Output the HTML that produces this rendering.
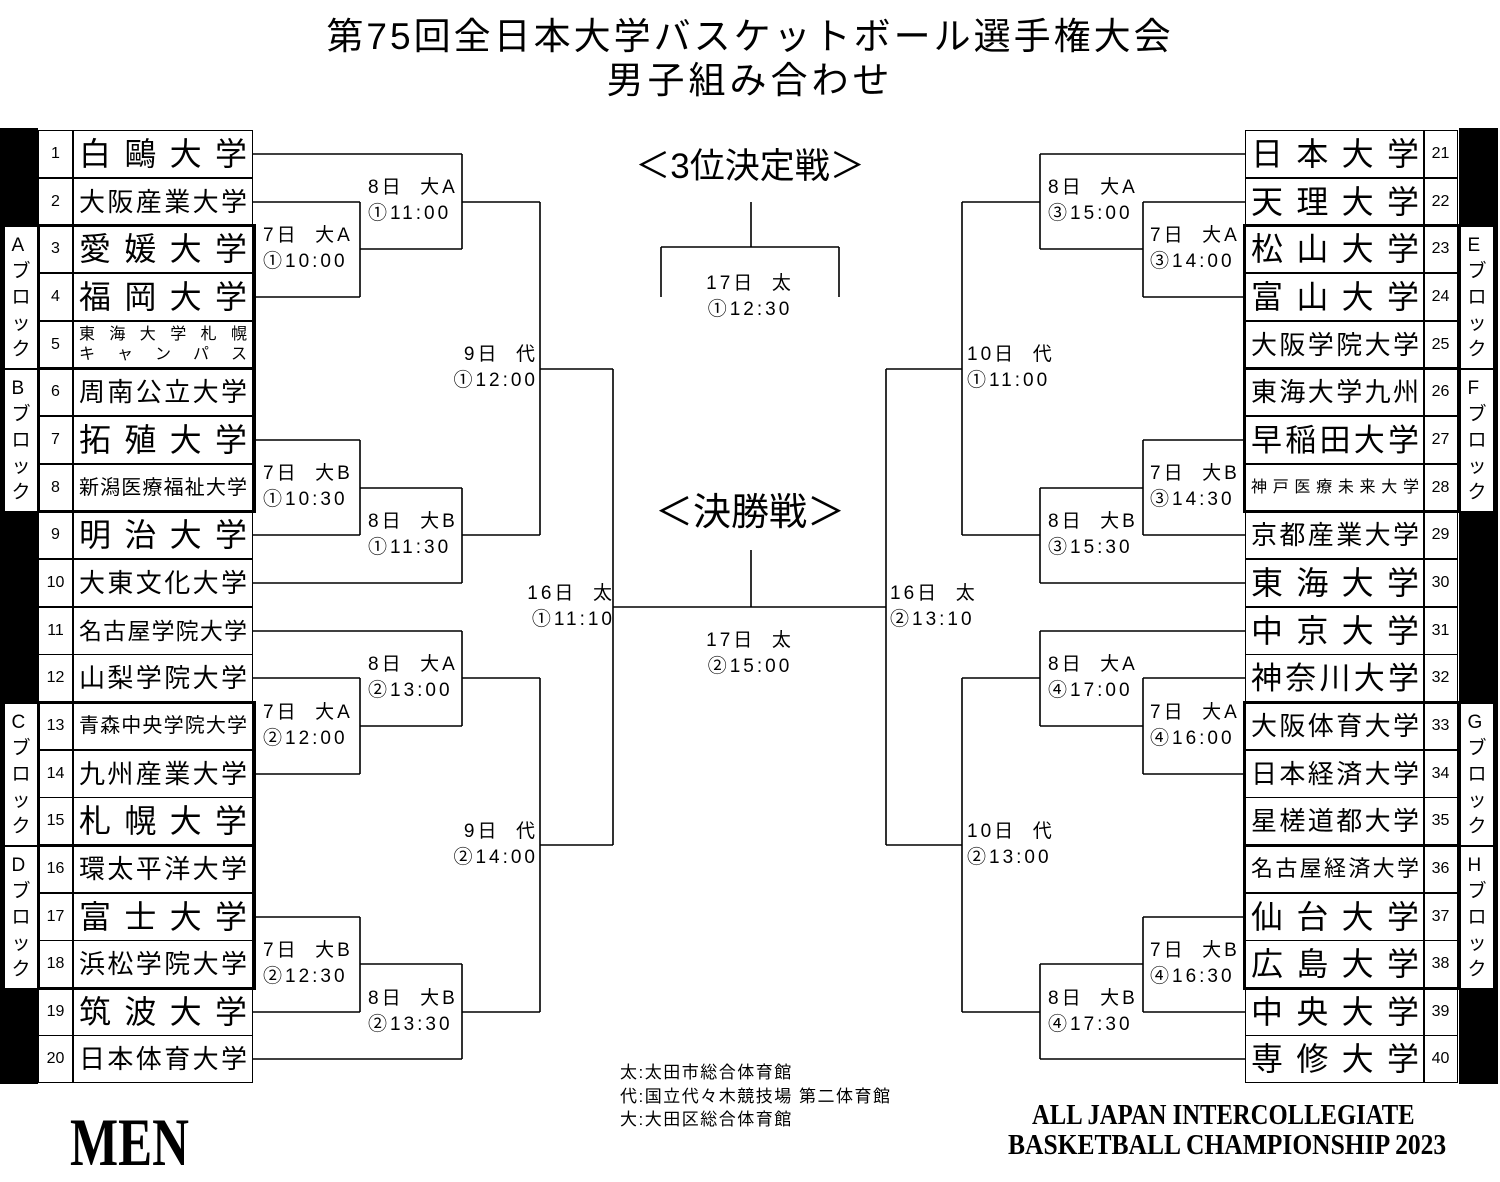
<!DOCTYPE html>
<html><head><meta charset="utf-8">
<style>
*{margin:0;padding:0;box-sizing:border-box}
body{width:1500px;height:1182px;background:#fff;position:relative;overflow:hidden;font-family:"Liberation Sans","Noto Sans CJK JP",sans-serif;color:#000}
.a{position:absolute}
.t{position:absolute;left:0;width:1500px;text-align:center;font-size:37px;white-space:nowrap}
.num{position:absolute;width:35px;height:48px;border:1.5px solid #000;font-size:16px;display:flex;align-items:center;justify-content:center}
.nm{position:absolute;width:180px;height:48px;border:1.5px solid #000;display:flex;align-items:center;padding:0 5px}
.nm span{display:block;width:100%;text-align:justify;text-align-last:justify;white-space:nowrap;line-height:1}
.blk{position:absolute;border:3px solid #000}
.bl{position:absolute;width:34px;border:1.5px solid #000;display:flex;flex-direction:column;align-items:center;justify-content:center;font-size:19px;line-height:26px;background:#fff}
.lb{position:absolute;font-size:19px;letter-spacing:3px;line-height:26px;white-space:nowrap}
.r{text-align:right}
.serif{font-family:"Liberation Serif",serif;font-weight:bold;white-space:nowrap;transform-origin:0 0}
</style></head><body>
<div class="t" style="top:6px;letter-spacing:3px">第75回全日本大学バスケットボール選手権大会</div>
<div class="t" style="top:50px;letter-spacing:4px">男子組み合わせ</div>

<div class="a" style="left:0;top:128px;width:38px;height:956px;background:#000"></div>
<div class="a" style="left:1459px;top:128px;width:39px;height:956px;background:#000"></div>

<svg class="a" style="left:0;top:0" width="1500" height="1182">
<g stroke="#000" stroke-width="1.6" fill="none">
<path d="M253 154H462M253 202H360M360 202V297M253 297H360M360 249H462M462 154V249M462 202H540"/>
<path d="M253 440H360M360 440V535M253 535H360M360 488H462M462 488V583M253 583H462M462 535H540"/>
<path d="M540 202V535M540 369H613"/>
<path d="M253 631H462M462 631V726M253 678H360M360 678V774M253 774H360M360 726H462M462 678H540"/>
<path d="M253 917H360M360 917V1012M253 1012H360M360 964H462M462 964V1059M253 1059H462M462 1012H540"/>
<path d="M540 678V1012M540 845H613M613 369V845M613 607H886"/>
<path d="M751 550V607M751 202V247M661 247H839M661 247V297M839 247V297"/>
<path d="M1245 154H1040M1245 202H1143M1143 202V297M1245 297H1143M1143 249H1040M1040 154V249M1040 202H962"/>
<path d="M1245 440H1143M1143 440V535M1245 535H1143M1143 488H1040M1040 488V583M1245 583H1040M1040 535H962"/>
<path d="M962 202V535M962 369H886"/>
<path d="M1245 631H1040M1040 631V726M1245 678H1143M1143 678V774M1245 774H1143M1143 726H1040M1040 678H962"/>
<path d="M1245 917H1143M1143 917V1012M1245 1012H1143M1143 964H1040M1040 964V1059M1245 1059H1040M1040 1012H962"/>
<path d="M962 678V1012M962 845H886M886 369V845"/>
</g></svg>

<!-- LEFT rows -->
<div class="num" style="left:38px;top:130px">1</div><div class="nm" style="left:73px;top:130px"><span style="font-size:32px">白鷗大学</span></div>
<div class="num" style="left:38px;top:178px">2</div><div class="nm" style="left:73px;top:178px"><span style="font-size:26px">大阪産業大学</span></div>
<div class="num" style="left:38px;top:225px">3</div><div class="nm" style="left:73px;top:225px"><span style="font-size:32px">愛媛大学</span></div>
<div class="num" style="left:38px;top:273px">4</div><div class="nm" style="left:73px;top:273px"><span style="font-size:32px">福岡大学</span></div>
<div class="num" style="left:38px;top:321px">5</div><div class="nm" style="left:73px;top:321px;flex-direction:column;justify-content:center"><span style="font-size:16px;line-height:20px">東海大学札幌</span><span style="font-size:16px;line-height:20px">キャンパス</span></div>
<div class="num" style="left:38px;top:368px">6</div><div class="nm" style="left:73px;top:368px"><span style="font-size:26px">周南公立大学</span></div>
<div class="num" style="left:38px;top:416px">7</div><div class="nm" style="left:73px;top:416px"><span style="font-size:32px">拓殖大学</span></div>
<div class="num" style="left:38px;top:464px">8</div><div class="nm" style="left:73px;top:464px"><span style="font-size:20px">新潟医療福祉大学</span></div>
<div class="num" style="left:38px;top:511px">9</div><div class="nm" style="left:73px;top:511px"><span style="font-size:32px">明治大学</span></div>
<div class="num" style="left:38px;top:559px">10</div><div class="nm" style="left:73px;top:559px"><span style="font-size:26px">大東文化大学</span></div>
<div class="num" style="left:38px;top:607px">11</div><div class="nm" style="left:73px;top:607px"><span style="font-size:23px">名古屋学院大学</span></div>
<div class="num" style="left:38px;top:654px">12</div><div class="nm" style="left:73px;top:654px"><span style="font-size:26px">山梨学院大学</span></div>
<div class="num" style="left:38px;top:702px">13</div><div class="nm" style="left:73px;top:702px"><span style="font-size:20px">青森中央学院大学</span></div>
<div class="num" style="left:38px;top:750px">14</div><div class="nm" style="left:73px;top:750px"><span style="font-size:26px">九州産業大学</span></div>
<div class="num" style="left:38px;top:797px">15</div><div class="nm" style="left:73px;top:797px"><span style="font-size:32px">札幌大学</span></div>
<div class="num" style="left:38px;top:845px">16</div><div class="nm" style="left:73px;top:845px"><span style="font-size:26px">環太平洋大学</span></div>
<div class="num" style="left:38px;top:893px">17</div><div class="nm" style="left:73px;top:893px"><span style="font-size:32px">富士大学</span></div>
<div class="num" style="left:38px;top:940px">18</div><div class="nm" style="left:73px;top:940px"><span style="font-size:26px">浜松学院大学</span></div>
<div class="num" style="left:38px;top:988px">19</div><div class="nm" style="left:73px;top:988px"><span style="font-size:32px">筑波大学</span></div>
<div class="num" style="left:38px;top:1035px">20</div><div class="nm" style="left:73px;top:1035px"><span style="font-size:26px">日本体育大学</span></div>

<div class="blk" style="left:37px;top:224px;width:219px;height:146px"></div>
<div class="blk" style="left:37px;top:367px;width:219px;height:146px"></div>
<div class="blk" style="left:37px;top:701px;width:219px;height:146px"></div>
<div class="blk" style="left:37px;top:844px;width:219px;height:146px"></div>
<div class="bl" style="left:4px;top:226px;height:143px">A<br>ブ<br>ロ<br>ッ<br>ク</div>
<div class="bl" style="left:4px;top:369px;height:143px">B<br>ブ<br>ロ<br>ッ<br>ク</div>
<div class="bl" style="left:4px;top:703px;height:143px">C<br>ブ<br>ロ<br>ッ<br>ク</div>
<div class="bl" style="left:4px;top:846px;height:143px">D<br>ブ<br>ロ<br>ッ<br>ク</div>

<!-- RIGHT rows -->
<div class="nm" style="left:1245px;top:130px"><span style="font-size:32px">日本大学</span></div><div class="num" style="left:1423px;top:130px">21</div>
<div class="nm" style="left:1245px;top:178px"><span style="font-size:32px">天理大学</span></div><div class="num" style="left:1423px;top:178px">22</div>
<div class="nm" style="left:1245px;top:225px"><span style="font-size:32px">松山大学</span></div><div class="num" style="left:1423px;top:225px">23</div>
<div class="nm" style="left:1245px;top:273px"><span style="font-size:32px">富山大学</span></div><div class="num" style="left:1423px;top:273px">24</div>
<div class="nm" style="left:1245px;top:321px"><span style="font-size:26px">大阪学院大学</span></div><div class="num" style="left:1423px;top:321px">25</div>
<div class="nm" style="left:1245px;top:368px"><span style="font-size:26px">東海大学九州</span></div><div class="num" style="left:1423px;top:368px">26</div>
<div class="nm" style="left:1245px;top:416px"><span style="font-size:31px">早稲田大学</span></div><div class="num" style="left:1423px;top:416px">27</div>
<div class="nm" style="left:1245px;top:464px"><span style="font-size:16px">神戸医療未来大学</span></div><div class="num" style="left:1423px;top:464px">28</div>
<div class="nm" style="left:1245px;top:511px"><span style="font-size:26px">京都産業大学</span></div><div class="num" style="left:1423px;top:511px">29</div>
<div class="nm" style="left:1245px;top:559px"><span style="font-size:32px">東海大学</span></div><div class="num" style="left:1423px;top:559px">30</div>
<div class="nm" style="left:1245px;top:607px"><span style="font-size:32px">中京大学</span></div><div class="num" style="left:1423px;top:607px">31</div>
<div class="nm" style="left:1245px;top:654px"><span style="font-size:31px">神奈川大学</span></div><div class="num" style="left:1423px;top:654px">32</div>
<div class="nm" style="left:1245px;top:702px"><span style="font-size:26px">大阪体育大学</span></div><div class="num" style="left:1423px;top:702px">33</div>
<div class="nm" style="left:1245px;top:750px"><span style="font-size:26px">日本経済大学</span></div><div class="num" style="left:1423px;top:750px">34</div>
<div class="nm" style="left:1245px;top:797px"><span style="font-size:26px">星槎道都大学</span></div><div class="num" style="left:1423px;top:797px">35</div>
<div class="nm" style="left:1245px;top:845px"><span style="font-size:22px">名古屋経済大学</span></div><div class="num" style="left:1423px;top:845px">36</div>
<div class="nm" style="left:1245px;top:893px"><span style="font-size:32px">仙台大学</span></div><div class="num" style="left:1423px;top:893px">37</div>
<div class="nm" style="left:1245px;top:940px"><span style="font-size:32px">広島大学</span></div><div class="num" style="left:1423px;top:940px">38</div>
<div class="nm" style="left:1245px;top:988px"><span style="font-size:32px">中央大学</span></div><div class="num" style="left:1423px;top:988px">39</div>
<div class="nm" style="left:1245px;top:1035px"><span style="font-size:32px">専修大学</span></div><div class="num" style="left:1423px;top:1035px">40</div>

<div class="blk" style="left:1243px;top:224px;width:218px;height:146px"></div>
<div class="blk" style="left:1243px;top:367px;width:218px;height:146px"></div>
<div class="blk" style="left:1243px;top:701px;width:218px;height:146px"></div>
<div class="blk" style="left:1243px;top:844px;width:218px;height:146px"></div>
<div class="bl" style="left:1460px;top:226px;height:143px">E<br>ブ<br>ロ<br>ッ<br>ク</div>
<div class="bl" style="left:1460px;top:369px;height:143px">F<br>ブ<br>ロ<br>ッ<br>ク</div>
<div class="bl" style="left:1460px;top:703px;height:143px">G<br>ブ<br>ロ<br>ッ<br>ク</div>
<div class="bl" style="left:1460px;top:846px;height:143px">H<br>ブ<br>ロ<br>ッ<br>ク</div>

<!-- labels left -->
<div class="lb" style="left:368px;top:175px">8日&nbsp;&nbsp;大A<br>①11:00</div>
<div class="lb" style="left:263px;top:223px">7日&nbsp;&nbsp;大A<br>①10:00</div>
<div class="lb" style="left:263px;top:461px">7日&nbsp;&nbsp;大B<br>①10:30</div>
<div class="lb" style="left:368px;top:509px">8日&nbsp;&nbsp;大B<br>①11:30</div>
<div class="lb r" style="left:390px;width:148px;top:342px">9日&nbsp;&nbsp;代<br>①12:00</div>
<div class="lb" style="left:368px;top:652px">8日&nbsp;&nbsp;大A<br>②13:00</div>
<div class="lb" style="left:263px;top:700px">7日&nbsp;&nbsp;大A<br>②12:00</div>
<div class="lb" style="left:263px;top:938px">7日&nbsp;&nbsp;大B<br>②12:30</div>
<div class="lb" style="left:368px;top:986px">8日&nbsp;&nbsp;大B<br>②13:30</div>
<div class="lb r" style="left:390px;width:148px;top:819px">9日&nbsp;&nbsp;代<br>②14:00</div>
<div class="lb r" style="left:460px;width:155px;top:581px">16日&nbsp;&nbsp;太<br>①11:10</div>
<!-- labels right -->
<div class="lb" style="left:1048px;top:175px">8日&nbsp;&nbsp;大A<br>③15:00</div>
<div class="lb" style="left:1150px;top:223px">7日&nbsp;&nbsp;大A<br>③14:00</div>
<div class="lb" style="left:1150px;top:461px">7日&nbsp;&nbsp;大B<br>③14:30</div>
<div class="lb" style="left:1048px;top:509px">8日&nbsp;&nbsp;大B<br>③15:30</div>
<div class="lb" style="left:967px;top:342px">10日&nbsp;&nbsp;代<br>①11:00</div>
<div class="lb" style="left:1048px;top:652px">8日&nbsp;&nbsp;大A<br>④17:00</div>
<div class="lb" style="left:1150px;top:700px">7日&nbsp;&nbsp;大A<br>④16:00</div>
<div class="lb" style="left:1150px;top:938px">7日&nbsp;&nbsp;大B<br>④16:30</div>
<div class="lb" style="left:1048px;top:986px">8日&nbsp;&nbsp;大B<br>④17:30</div>
<div class="lb" style="left:967px;top:819px">10日&nbsp;&nbsp;代<br>②13:00</div>
<div class="lb" style="left:890px;top:581px">16日&nbsp;&nbsp;太<br>②13:10</div>
<!-- center -->
<div class="a" style="left:550px;width:400px;text-align:center;top:145px;font-size:35px;line-height:44px">＜3位決定戦＞</div>
<div class="lb" style="left:650px;width:200px;text-align:center;top:271px">17日&nbsp;&nbsp;太<br>①12:30</div>
<div class="a" style="left:550px;width:400px;text-align:center;top:489px;font-size:38px;line-height:48px">＜決勝戦＞</div>
<div class="lb" style="left:650px;width:200px;text-align:center;top:628px">17日&nbsp;&nbsp;太<br>②15:00</div>

<div class="a" style="left:620px;top:1061px;font-size:17px;letter-spacing:1.5px;line-height:23.5px;white-space:nowrap">太:太田市総合体育館<br>代:国立代々木競技場 第二体育館<br>大:大田区総合体育館</div>

<div class="a serif" style="left:70px;top:1108px;font-size:68px;line-height:68px;transform:scaleX(0.75)">MEN</div>
<div class="a serif" style="left:1032px;top:1100px;font-size:29px;line-height:30px;transform:scaleX(0.85)">ALL JAPAN INTERCOLLEGIATE</div>
<div class="a serif" style="left:1008px;top:1130px;font-size:29px;line-height:30px;transform:scaleX(0.88)">BASKETBALL CHAMPIONSHIP 2023</div>
</body></html>
